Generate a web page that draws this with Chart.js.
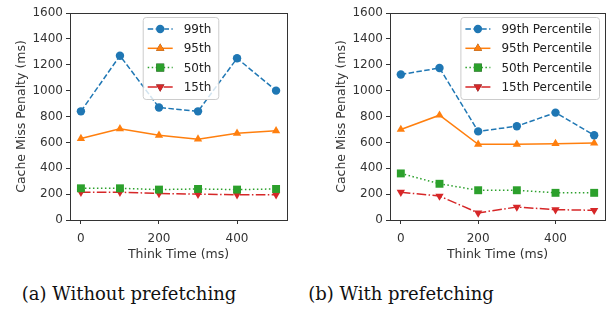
<!DOCTYPE html>
<html><head><meta charset="utf-8">
<script src="https://cdn.jsdelivr.net/npm/chart.js@4/dist/chart.umd.min.js"></script>
<style>
html,body{margin:0;padding:0;background:#fff;width:613px;height:311px;overflow:hidden;}
.box{position:absolute;top:0;}
.cap{position:absolute;top:283px;font-family:"DejaVu Serif","Liberation Serif",serif;font-size:18px;color:#111;white-space:nowrap;transform:translateX(-50%);}
</style></head><body>
<div class="box" style="left:0;width:300px;height:262px;"><canvas id="c1" width="300" height="262"></canvas></div>
<div class="box" style="left:300px;width:313px;height:262px;"><canvas id="c2" width="313" height="262"></canvas></div>
<div class="cap" style="left:129px;">(a) Without prefetching</div>
<div class="cap" style="left:401px;">(b) With prefetching</div>
<script>
const thinkTimes = [0, 100, 200, 300, 400, 500];
const xTicks = [0, 200, 400];
const yTicks = [0, 200, 400, 600, 800, 1000, 1200, 1400, 1600];

const noPrefetchP99 = [840, 1270, 870, 840, 1250, 1000];
const noPrefetchP95 = [630, 705, 655, 625, 670, 690];
const noPrefetchP50 = [245, 245, 235, 240, 235, 240];
const noPrefetchP15 = [215, 215, 205, 200, 195, 195];

const prefetchP99 = [1125, 1175, 685, 725, 830, 655];
const prefetchP95 = [700, 810, 585, 585, 590, 595];
const prefetchP50 = [360, 280, 230, 230, 210, 210];
const prefetchP15 = [215, 185, 55, 100, 80, 75];

const labelsA = ['99th', '95th', '50th', '15th'];
const labelsB = ['99th Percentile', '95th Percentile', '50th Percentile', '15th Percentile'];

const styles = [
  {color:'#1f77b4', dash:[5.5,2.4], point:'circle', rot:0, r:4.2},
  {color:'#ff7f0e', dash:[], point:'triangle', rot:0, r:4.8},
  {color:'#2ca02c', dash:[1.5,2.5], point:'rect', rot:0, r:5.6},
  {color:'#d62728', dash:[9.6,2.4,1.5,2.4], point:'triangle', rot:180, r:4.8}
];

const FONT = "'DejaVu Sans', sans-serif";

const framePlugin = {
  id:'frame',
  afterDraw(chart){
    const {ctx, chartArea:a} = chart;
    ctx.save();
    ctx.strokeStyle = '#333';
    ctx.lineWidth = 1;
    ctx.strokeRect(Math.round(a.left)+0.5, Math.round(a.top)+0.5, Math.round(a.right-a.left), Math.round(a.bottom-a.top));
    const lg = chart.options.plugins.inLegend;
    ctx.font = "12px " + FONT;
    let tw = 0; chart.data.datasets.forEach(d=>{tw=Math.max(tw, ctx.measureText(d.label).width);});
    const padL=5, handle=25, gap=11, padR=7, rowH=19.3;
    const w = padL+handle+gap+tw+padR, h = 82;
    let x0;
    if (lg.align==='center') x0 = (a.left+a.right)/2 - w/2 + 2;
    else x0 = a.right - 6 - w;
    const y0 = a.top + 4;
    ctx.fillStyle = 'rgba(255,255,255,0.8)';
    ctx.strokeStyle = '#cccccc';
    ctx.beginPath();
    if (ctx.roundRect) ctx.roundRect(x0+0.5, y0+0.5, w, h, 3); else ctx.rect(x0+0.5,y0+0.5,w,h);
    ctx.fill(); ctx.stroke();
    chart.data.datasets.forEach((d,i)=>{
      const cy = y0 + 12 + i*rowH;
      const s = styles[i];
      ctx.strokeStyle = s.color; ctx.lineWidth = 1.5; ctx.setLineDash(s.dash);
      ctx.beginPath(); ctx.moveTo(x0+padL, cy); ctx.lineTo(x0+padL+handle, cy); ctx.stroke();
      ctx.setLineDash([]);
      Chart.helpers.drawPoint(ctx, {pointStyle:s.point, radius:s.r, rotation:s.rot, borderWidth:0}, x0+padL+handle/2, cy);
      ctx.fillStyle = s.color;
      ctx.fill();
      ctx.fillStyle = '#222';
      ctx.textBaseline = 'middle';
      ctx.fillText(d.label, x0+padL+handle+gap, cy+1);
    });
    ctx.restore();
  }
};

function makeChart(id, labels, series, cfg){
  const datasets = series.map((vals,i)=>({
    label: labels[i],
    data: thinkTimes.map((t,j)=>({x:t, y:vals[j]})),
    borderColor: styles[i].color,
    backgroundColor: styles[i].color,
    borderWidth: 1.5,
    borderDash: styles[i].dash,
    pointStyle: styles[i].point,
    pointRotation: styles[i].rot,
    pointRadius: styles[i].r,
    pointBorderWidth: 0,
    pointBackgroundColor: styles[i].color,
    tension: 0
  }));
  new Chart(document.getElementById(id), {
    type:'line',
    data:{datasets},
    plugins:[framePlugin],
    options:{
      responsive:false, animation:false,
      layout:{padding:{left:cfg.padLeft, right:cfg.padRight, top:13, bottom:0}},
      plugins:{legend:{display:false}, tooltip:{enabled:false}, inLegend:{align:cfg.align}},
      scales:{
        x:{type:'linear', min:-28, max:528,
          afterBuildTicks(ax){ ax.ticks = xTicks.map(v=>({value:v})); },
          afterFit(ax){ ax.height = 42; },
          grid:{display:true, drawOnChartArea:false, drawTicks:true, tickLength:4, color:'#333', tickColor:'#333'},
          border:{display:false},
          ticks:{font:{family:FONT, size:12}, color:'#333', padding:8, maxRotation:0, callback:v=>String(v)},
          title:{display:true, text:'Think Time (ms)', font:{family:FONT, size:12.5}, color:'#333', padding:{top:0,bottom:0}}
        },
        y:{type:'linear', min:0, max:1600,
          afterBuildTicks(ax){ ax.ticks = yTicks.map(v=>({value:v})); },
          afterFit(ax){ ax.width = 70; },
          grid:{display:true, drawOnChartArea:false, drawTicks:true, tickLength:4, color:'#333', tickColor:'#333'},
          border:{display:false},
          ticks:{font:{family:FONT, size:12}, color:'#333', padding:3, callback:v=>String(v)},
          title:{display:true, text:'Cache Miss Penalty (ms)', font:{family:FONT, size:12.5}, color:'#333', padding:{top:14,bottom:0}}
        }
      }
    }
  });
}

makeChart('c1', labelsA, [noPrefetchP99, noPrefetchP95, noPrefetchP50, noPrefetchP15], {padLeft:0, padRight:13, align:'center'});
makeChart('c2', labelsB, [prefetchP99, prefetchP95, prefetchP50, prefetchP15], {padLeft:20, padRight:8, align:'right'});
</script>
</body></html>
